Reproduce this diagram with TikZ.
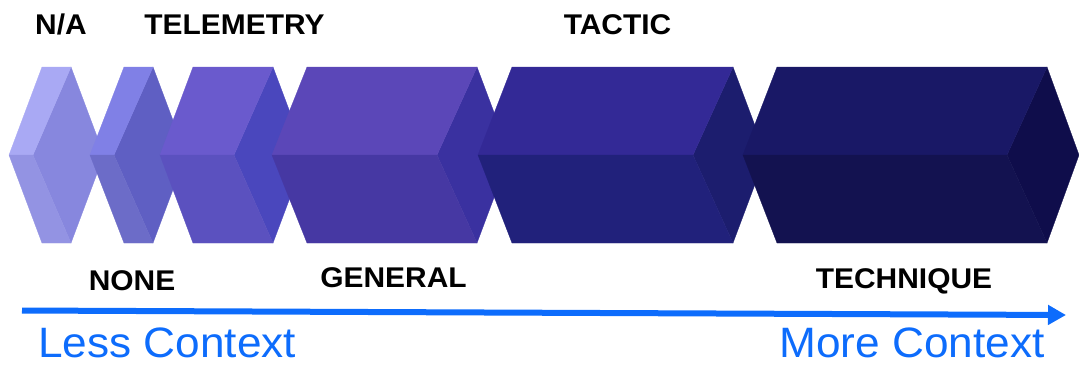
\documentclass[tikz,border=0pt]{standalone}
\usepackage{fontspec}
\setmainfont{Liberation Sans}
\usetikzlibrary{arrows.meta}
\definecolor{aT}{HTML}{A9A9F4}\definecolor{aB}{HTML}{9393E3}\definecolor{aR}{HTML}{8787DE}
\definecolor{bT}{HTML}{8080E6}\definecolor{bB}{HTML}{6C6CC8}\definecolor{bR}{HTML}{5F5FC3}
\definecolor{cT}{HTML}{6A5ACD}\definecolor{cB}{HTML}{5B51BF}\definecolor{cR}{HTML}{4A47BD}
\definecolor{dT}{HTML}{5B47B8}\definecolor{dB}{HTML}{4638A3}\definecolor{dR}{HTML}{3A31A0}
\definecolor{eT}{HTML}{332996}\definecolor{eB}{HTML}{21217B}\definecolor{eR}{HTML}{1C1D6E}
\definecolor{fT}{HTML}{191866}\definecolor{fB}{HTML}{131250}\definecolor{fR}{HTML}{0F0D4B}
\definecolor{ctxblue}{RGB}{13,108,252}
% L, TL, TR, I, R, top, bottom, right
\newcommand{\hexprism}[8]{%
  \fill[#8,draw=#8,line width=0.3pt] (#4,155) -- (#3,67) -- (#5,155) -- (#3,243) -- cycle;
  \fill[#6,draw=#6,line width=0.3pt] (#1,155) -- (#2,67) -- (#3,67) -- (#4,155) -- cycle;
  \fill[#7,draw=#7,line width=0.3pt] (#1,155) -- (#4,155) -- (#3,243) -- (#2,243) -- cycle;
}
\newcommand{\lblw}[1]{\scalebox{1.05}[1]{#1}}
\newcommand{\ctxw}[1]{\scalebox{1.04}[1]{#1}}
\tikzset{
  lvl/.style={font=\bfseries\fontsize{28.5}{30}\selectfont, text=black, inner sep=0pt, anchor=base},
  ctx/.style={font=\fontsize{42.5}{46}\selectfont, text=ctxblue, inner sep=0pt},
  ctxarrow/.style={draw=ctxblue, line width=6pt, -{Triangle[length=18pt,width=19pt]}}
}
\begin{document}
\begin{tikzpicture}[x=1pt,y=-1pt]
\useasboundingbox (0,0) rectangle (1079,365);
\hexprism{9}{42}{71}{33}{104}{aT}{aB}{aR}
\hexprism{90}{124}{153}{114}{186}{bT}{bB}{bR}
\hexprism{160}{193}{273}{234}{306}{cT}{cB}{cR}
\hexprism{272}{307}{477}{437}{510}{dT}{dB}{dR}
\hexprism{478}{512}{733}{693}{766}{eT}{eB}{eR}
\hexprism{743}{777}{1047}{1007}{1079}{fT}{fB}{fR}
\node[lvl] (na) at (61,34) {\lblw{N/A}};
\node[lvl] (tele) at (234.5,34) {\lblw{TELEMETRY}};
\node[lvl] (tac) at (617.5,34) {\lblw{TACTIC}};
\node[lvl] (none) at (132,290) {\lblw{NONE}};
\node[lvl] (gen) at (393.5,287) {\lblw{GENERAL}};
\node[lvl] (tech) at (904,288) {\lblw{TECHNIQUE}};
\coordinate (as) at (22,310.5);
\coordinate (ae) at (1066,315);
\draw[ctxarrow] (as) -- (ae);
\node[ctx, anchor=base west] (less) at (38,357) {\ctxw{Less Context}};
\node[ctx, anchor=base east] (more) at (1045,357) {\ctxw{More Context}};
\end{tikzpicture}
\end{document}
